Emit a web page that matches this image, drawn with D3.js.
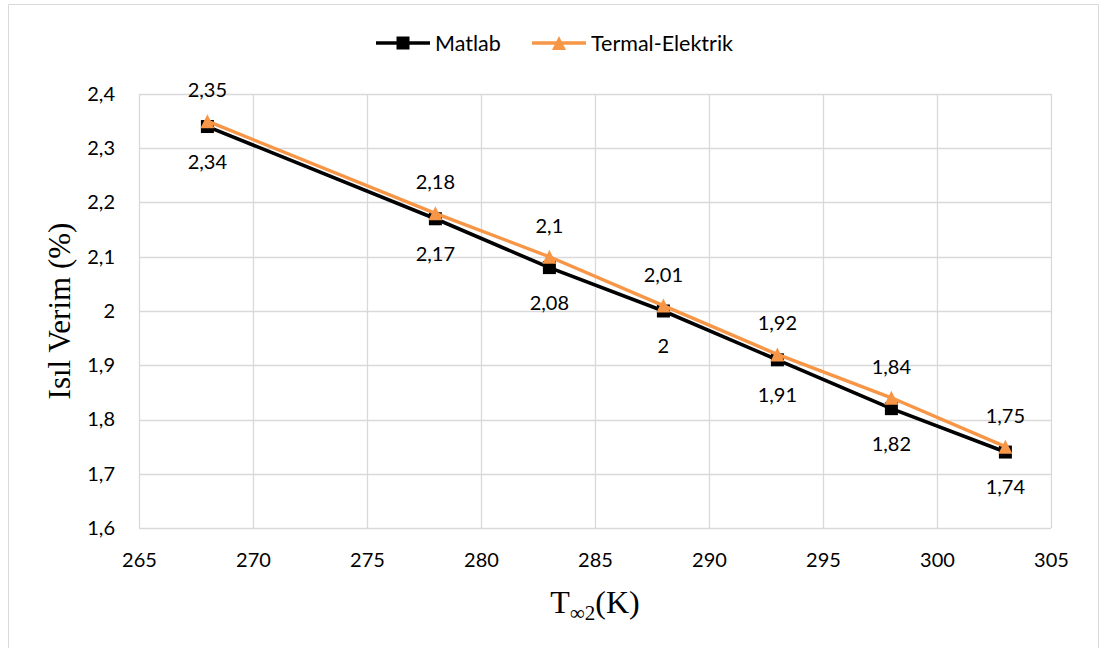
<!DOCTYPE html>
<html>
<head>
<meta charset="utf-8">
<script src="https://cdn.jsdelivr.net/npm/d3@7"></script>
<style>
  html, body { margin: 0; padding: 0; background: #fff; }
  svg text { font-family: Lato, "Open Sans", sans-serif; }
</style>
</head>
<body>
<svg id="chart" width="1099" height="648"></svg>
<script>
// Ambient temperature T∞2 (K)
const temps = [268, 278, 283, 288, 293, 298, 303];
// Thermal efficiency (%) per method
const matlab = [2.34, 2.17, 2.08, 2, 1.91, 1.82, 1.74];
const termal = [2.35, 2.18, 2.1, 2.01, 1.92, 1.84, 1.75];
const seriesNames = ["Matlab", "Termal-Elektrik"];
const xTicks = [265, 270, 275, 280, 285, 290, 295, 300, 305];
const yTicks = [1.6, 1.7, 1.8, 1.9, 2.0, 2.1, 2.2, 2.3, 2.4];

const svg = d3.select("#chart");
const fmt = v => String(+v.toFixed(2)).replace(".", ",");

const plotL = 139, plotR = 1051, plotT = 94, plotB = 528;
const x = d3.scaleLinear().domain([265, 305]).range([plotL, plotR]);
const y = d3.scaleLinear().domain([1.6, 2.4]).range([plotB, plotT]);

const serif = "'Liberation Serif', 'Times New Roman', serif";
const sans = "Lato, 'Open Sans', sans-serif";

// chart frame
svg.append("path")
  .attr("d", `M8.5,652 V4.5 H1098.5 V652`)
  .attr("fill", "none").attr("stroke", "#d9d9d9").attr("stroke-width", 1);

// gridlines
const grid = svg.append("g");
grid.selectAll("line.h").data(yTicks).join("line")
  .attr("x1", plotL).attr("x2", plotR)
  .attr("y1", d => Math.round(y(d)) + 0.5).attr("y2", d => Math.round(y(d)) + 0.5)
  .attr("stroke", "#d9d9d9").attr("stroke-width", 1.3);
grid.selectAll("line.v").data(xTicks).join("line")
  .attr("y1", plotT).attr("y2", plotB)
  .attr("x1", d => Math.round(x(d)) + 0.5).attr("x2", d => Math.round(x(d)) + 0.5)
  .attr("stroke", "#d9d9d9").attr("stroke-width", 1.3);

// axes (labels only)
const yAxis = svg.append("g").attr("transform", `translate(${plotL},0)`)
  .call(d3.axisLeft(y).tickValues(yTicks).tickFormat(fmt).tickSize(0).tickPadding(24));
const xAxis = svg.append("g").attr("transform", `translate(0,${plotB})`)
  .call(d3.axisBottom(x).tickValues(xTicks).tickFormat(d => d).tickSize(0).tickPadding(32));
[yAxis, xAxis].forEach(a => {
  a.select(".domain").remove();
  a.selectAll("text").attr("font-size", 20).attr("fill", "#000").attr("font-family", sans);
});
xAxis.selectAll("text").attr("dy", "0.35em");

// axis titles
svg.append("text")
  .attr("transform", `translate(70,${(plotT + plotB) / 2}) rotate(-90)`)
  .attr("text-anchor", "middle")
  .style("font-family", serif)
  .attr("font-size", 31).attr("fill", "#000")
  .text("Isıl Verim (%)");
const xt = svg.append("text")
  .attr("x", (plotL + plotR) / 2).attr("y", 613)
  .attr("text-anchor", "middle")
  .style("font-family", serif)
  .attr("font-size", 32).attr("fill", "#000");
xt.append("tspan").text("T");
xt.append("tspan").attr("font-size", 21).attr("dy", 7).text("∞2");
xt.append("tspan").attr("dy", -7).text("(K)");

const line = d3.line().x(d => x(d[0])).y(d => y(d[1]));
const matlabPts = temps.map((t, i) => [t, matlab[i]]);
const termalPts = temps.map((t, i) => [t, termal[i]]);

const black = "#000000", orange = "#F79646";
// square marker 13px, triangle marker 14px wide by 14px tall
const sq = "M-6.5,-6.5H6.5V6.5H-6.5Z";
const tri = "M0,-7L7,7H-7Z";

// Matlab series
svg.append("path").attr("d", line(matlabPts))
  .attr("fill", "none").attr("stroke", black).attr("stroke-width", 3.6).attr("stroke-linejoin", "round");
svg.append("g").selectAll("path").data(matlabPts).join("path")
  .attr("d", sq).attr("transform", d => `translate(${x(d[0])},${y(d[1])})`)
  .attr("fill", black);

// Termal-Elektrik series
svg.append("path").attr("d", line(termalPts))
  .attr("fill", "none").attr("stroke", orange).attr("stroke-width", 3.4).attr("stroke-linejoin", "round");
svg.append("g").selectAll("path").data(termalPts).join("path")
  .attr("d", tri).attr("transform", d => `translate(${x(d[0])},${y(d[1])})`)
  .attr("fill", orange);

// value labels
svg.append("g").selectAll("text").data(matlabPts).join("text")
  .attr("x", d => x(d[0])).attr("y", d => y(d[1]) + 35)
  .attr("dy", "0.35em").attr("text-anchor", "middle")
  .attr("font-size", 20).attr("fill", "#000")
  .text(d => fmt(d[1]));
svg.append("g").selectAll("text").data(termalPts).join("text")
  .attr("x", d => x(d[0])).attr("y", d => y(d[1]) - 31)
  .attr("dy", "0.35em").attr("text-anchor", "middle")
  .attr("font-size", 20).attr("fill", "#000")
  .text(d => fmt(d[1]));

// legend
const legend = svg.append("g");
const legendItems = [
  { name: seriesNames[0], color: black, sym: sq, x0: 376 },
  { name: seriesNames[1], color: orange, sym: tri, x0: 532 }
];
legendItems.forEach(it => {
  legend.append("line").attr("x1", it.x0).attr("x2", it.x0 + 54)
    .attr("y1", 43).attr("y2", 43).attr("stroke", it.color).attr("stroke-width", 3.4);
  legend.append("path").attr("d", it.sym)
    .attr("transform", `translate(${it.x0 + 27},43)`).attr("fill", it.color);
  legend.append("text").attr("x", it.x0 + 59).attr("y", 43).attr("dy", "0.35em")
    .attr("font-size", 21.5).attr("fill", "#000").text(it.name);
});
</script>
</body>
</html>
